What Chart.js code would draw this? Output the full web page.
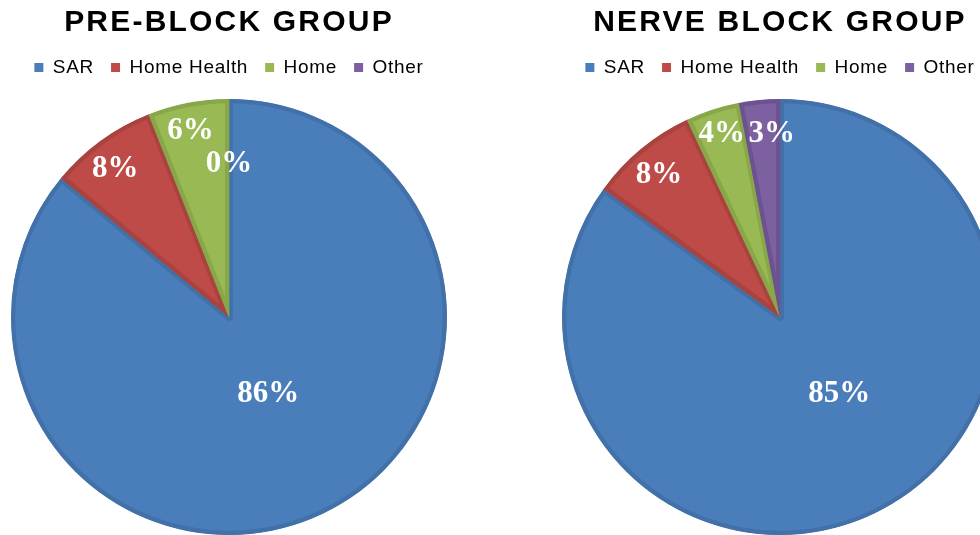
<!DOCTYPE html>
<html>
<head>
<meta charset="utf-8">
<script src="https://cdn.jsdelivr.net/npm/chart.js@4/dist/chart.umd.min.js"></script>
<style>
  html, body { margin: 0; padding: 0; background: #fff; overflow: hidden; }
  body { width: 980px; height: 535px; position: relative; }
  .pane { position: absolute; top: 0; width: 460px; height: 550px; }
  #paneLeft { left: -1px; }
  #paneRight { left: 550px; }
</style>
</head>
<body>
<div class="pane" id="paneLeft"><canvas id="preChart"></canvas></div>
<div class="pane" id="paneRight"><canvas id="nerveChart"></canvas></div>
<script>
const categories = ["SAR", "Home Health", "Home", "Other"];
const preBlock = [86, 8, 6, 0];
const nerveBlock = [85, 8, 4, 3];

const fills = ["#4a7ebb", "#be4b48", "#98b954", "#7d60a0"];
const edges = ["#4270a9", "#a94340", "#87a749", "#6c5290"];

// label placement per slice: [fraction of radius, fraction across the slice's angle]
const preLabelPos = [[0.38, 0.49], [0.87, 0.47], [0.89, 0.47], [0.72, 0.5]];
const nerveLabelPos = [[0.43, 0.46], [0.87, 0.5], [0.9, 0.55], [0.86, 0.77]];

const sliceLabels = {
    id: "sliceLabels",
    afterDatasetsDraw(chart, args, opts) {
        const ctx = chart.ctx;
        const meta = chart.getDatasetMeta(0);
        const values = chart.data.datasets[0].data;
        ctx.save();
        ctx.letterSpacing = "0px";
        ctx.font = "bold 31px 'Liberation Serif', 'Times New Roman', serif";
        ctx.fillStyle = "#ffffff";
        ctx.textAlign = "center";
        ctx.textBaseline = "middle";
        meta.data.forEach(function (arc, i) {
            const p = arc.getProps(["x", "y", "startAngle", "endAngle", "outerRadius"], true);
            const a = p.startAngle + (p.endAngle - p.startAngle) * opts.pos[i][1];
            const r = p.outerRadius * opts.pos[i][0];
            ctx.fillText(values[i] + "%", p.x + Math.cos(a) * r, p.y + Math.sin(a) * r + 4);
        });
        ctx.restore();
    },
};

// slightly spaced-out legend text
const textSpacing = {
    id: "textSpacing",
    beforeLayout(chart) {
        chart.ctx.letterSpacing = "0.7px";
    },
    beforeDraw(chart) {
        chart.ctx.letterSpacing = "0.7px";
    },
};

function makePie(id, title, values, labelPos) {
    const chart = new Chart(document.getElementById(id), {
        type: "pie",
        data: {
            labels: categories,
            datasets: [
                {
                    data: values,
                    backgroundColor: fills,
                    borderColor: edges,
                    borderWidth: 4,
                    borderAlign: "inner",
                    radius: 218,
                },
            ],
        },
        options: {
            responsive: true,
            maintainAspectRatio: false,
            animation: false,
            events: [],
            layout: { padding: { top: 0, bottom: 3 } },
            plugins: {
                title: {
                    display: true,
                    text: title,
                    color: "#000",
                    font: { family: "'Liberation Sans', Arial, sans-serif", size: 30, weight: "bold" },
                    padding: { top: 5, bottom: 0 },
                },
                legend: {
                    position: "top",
                    labels: {
                        color: "#000",
                        boxWidth: 9,
                        boxHeight: 9,
                        padding: 17,
                        font: { family: "'Liberation Sans', Arial, sans-serif", size: 19 },
                        generateLabels: function (chart) {
                            const items = Chart.overrides.pie.plugins.legend.labels.generateLabels(chart);
                            items.forEach(function (it) {
                                it.lineWidth = 0;
                                it.strokeStyle = it.fillStyle;
                            });
                            return items;
                        },
                    },
                },
                tooltip: { enabled: false },
                sliceLabels: { pos: labelPos },
            },
        },
        plugins: [textSpacing, sliceLabels],
    });

    // wider tracking for the heading
    const block = chart.titleBlock;
    const drawTitle = block.draw.bind(block);
    block.draw = function (area) {
        chart.ctx.save();
        chart.ctx.letterSpacing = "2.2px";
        drawTitle(area);
        chart.ctx.restore();
    };
    chart.draw();
    return chart;
}

makePie("preChart", "PRE-BLOCK GROUP", preBlock, preLabelPos);
makePie("nerveChart", "NERVE BLOCK GROUP", nerveBlock, nerveLabelPos);
</script>
</body>
</html>
